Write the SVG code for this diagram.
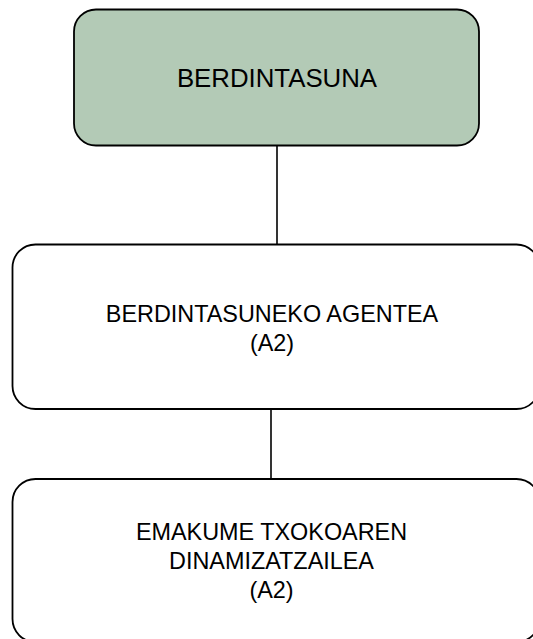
<svg xmlns="http://www.w3.org/2000/svg" width="533" height="639" viewBox="0 0 533 639">
<style>
.box{stroke:#000;stroke-width:1.8;fill:#fff}
.top{fill:#b3cab6}
.lbl{font-family:"Liberation Sans",Arial,sans-serif;font-size:23.4px;fill:#000;text-anchor:middle}
.big{font-size:25.8px}
.conn{stroke:#000;stroke-width:1.6;fill:none}
</style>
<rect width="533" height="639" fill="#fff"/>
<g id="connectors">
<line class="conn" x1="277" y1="146" x2="277" y2="244"/>
<line class="conn" x1="271" y1="409" x2="271" y2="479"/>
</g>
<g id="n1">
<rect class="box top" x="74" y="9.5" width="405" height="136" rx="22" ry="22"/>
<text class="lbl big" x="277" y="87">BERDINTASUNA</text>
</g>
<g id="n2">
<rect class="box" x="12.5" y="244.5" width="527" height="164.5" rx="23" ry="23"/>
<text class="lbl" x="272" y="322">BERDINTASUNEKO AGENTEA</text>
<text class="lbl" x="272" y="351">(A2)</text>
</g>
<g id="n3">
<rect class="box" x="12.5" y="479" width="527" height="163" rx="23" ry="23"/>
<text class="lbl" x="271.5" y="540">EMAKUME TXOKOAREN</text>
<text class="lbl" x="271.5" y="569">DINAMIZATZAILEA</text>
<text class="lbl" x="271.5" y="598">(A2)</text>
</g>
</svg>
